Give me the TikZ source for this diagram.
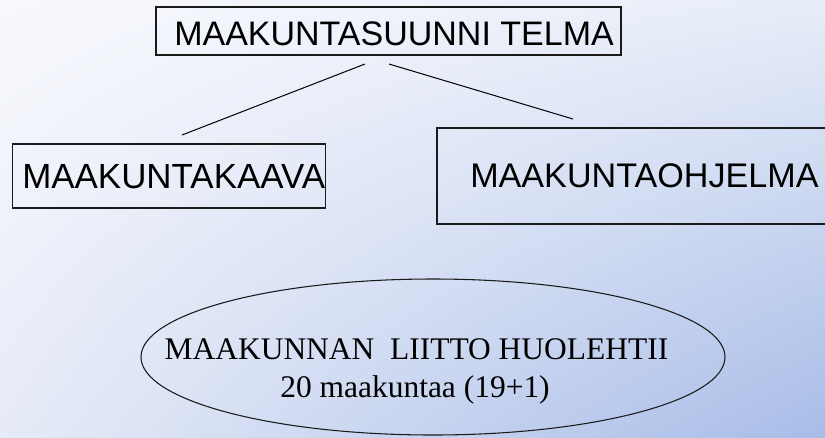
\documentclass[tikz,border=0pt]{standalone}
\usepackage{fontspec}
\setmainfont{Liberation Serif}
\setsansfont{Liberation Sans}
\usetikzlibrary{shapes.geometric,shadings}
\definecolor{bgtl}{HTML}{F8F9FD}
\definecolor{bgtr}{HTML}{E7EDF8}
\definecolor{bgbl}{HTML}{E6EBF7}
\definecolor{bgbr}{HTML}{A8BCE8}
\definecolor{edge}{HTML}{1A1A1A}
\tikzset{
  boxshape/.style={draw=edge, line width=0.8pt, rectangle, inner sep=0pt},
  sanslabel/.style={inner sep=0pt, anchor=base west, font=\sffamily\fontsize{25.5pt}{30pt}\selectfont},
  seriflabel/.style={inner sep=0pt, anchor=base, font=\rmfamily\fontsize{23.6pt}{28pt}\selectfont},
  link/.style={draw=black, line width=0.75pt}
}
\begin{document}
\begin{tikzpicture}[x=0.75pt,y=-0.75pt]
\useasboundingbox (0,0) rectangle (825,437);
\clip (0,0) rectangle (825,437);
\shade[upper left=bgtl, upper right=bgtr, lower left=bgbl, lower right=bgbr] (0,0) rectangle (825,437);

% boxes
\node[boxshape, minimum width=348.75pt, minimum height=36pt] (topbox) at (388.5,31) {};
\node[boxshape, minimum width=234.75pt, minimum height=48pt] (leftbox) at (169.2,176) {};
\node[boxshape, minimum width=294.75pt, minimum height=72pt] (rightbox) at (633.5,176) {};
\node[draw=edge, line width=0.8pt, ellipse, inner sep=0pt, minimum width=438pt, minimum height=117pt] (liitto) at (433,357) {};

% texts
\node[sanslabel] (toptext) at (174,45) {MAAKUNTASUUNNI TELMA};
\node[sanslabel, font=\sffamily\fontsize{26.2pt}{30pt}\selectfont] (lefttext) at (22,188) {MAAKUNTAKAAVA};
\node[sanslabel, font=\sffamily\fontsize{25.6pt}{30pt}\selectfont] (righttext) at (470,187) {MAAKUNTAOHJELMA};
\node[seriflabel] (liittoa) at (416.5,359) {MAAKUNNAN\ \ LIITTO HUOLEHTII};
\node[seriflabel] (liittob) at (415,397) {20 maakuntaa (19+1)};

% connectors
\coordinate (la) at (365,64);
\coordinate (lb) at (182,135);
\coordinate (ra) at (389,64);
\coordinate (rb) at (573,119);
\draw[link] (la) -- (lb);
\draw[link] (ra) -- (rb);
\end{tikzpicture}
\end{document}
